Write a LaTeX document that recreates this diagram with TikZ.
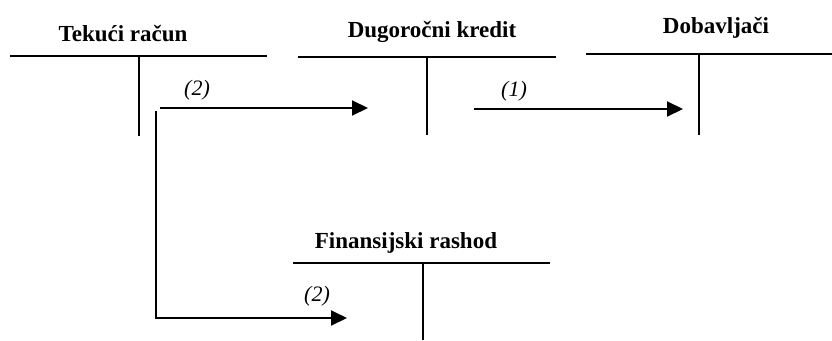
\documentclass[tikz,border=0pt]{standalone}
\usepackage{fontspec}
\setmainfont{Liberation Serif}
\usetikzlibrary{arrows.meta}
\tikzset{
  title/.style={font=\fontsize{23}{26}\selectfont\bfseries, anchor=base, inner sep=0pt},
  lbl/.style={font=\fontsize{22}{24}\selectfont\itshape, inner sep=0pt},
  tline/.style={line width=2pt},
  flow/.style={line width=2pt, -{Triangle[length=16pt,width=15pt]}},
}
\begin{document}
\begin{tikzpicture}[x=1pt,y=-1pt]
\useasboundingbox (0,0) rectangle (832,340);
% T-account: Tekuci racun
\coordinate (t1l) at (10,56); \coordinate (t1r) at (267,56);
\coordinate (t1t) at (139,56); \coordinate (t1b) at (139,136);
\node[title] (n1) at (123,41) {Tekući račun};
\draw[tline] (t1l) -- (t1r); \draw[tline] (t1t) -- (t1b);
% Dugorocni kredit
\coordinate (t2l) at (298,57); \coordinate (t2r) at (556,57);
\coordinate (t2t) at (427,57); \coordinate (t2b) at (427,135);
\node[title] (n2) at (432,37) {Dugoročni kredit};
\draw[tline] (t2l) -- (t2r); \draw[tline] (t2t) -- (t2b);
% Dobavljaci
\coordinate (t3l) at (586,54); \coordinate (t3r) at (832,54);
\coordinate (t3t) at (699,54); \coordinate (t3b) at (699,135);
\node[title] (n3) at (716,33) {Dobavljači};
\draw[tline] (t3l) -- (t3r); \draw[tline] (t3t) -- (t3b);
% Finansijski rashod
\coordinate (t4l) at (293,263); \coordinate (t4r) at (550,263);
\coordinate (t4t) at (423,263); \coordinate (t4b) at (423,340);
\node[title] (n4) at (406,248) {Finansijski rashod};
\draw[tline] (t4l) -- (t4r); \draw[tline] (t4t) -- (t4b);
% flows
\coordinate (a1s) at (160,108); \coordinate (a1e) at (368,108);
\draw[flow] (a1s) -- (a1e);
\node[lbl] (l1) at (197,90) {(2)};
\coordinate (a2s) at (474,109); \coordinate (a2e) at (683,109);
\draw[flow] (a2s) -- (a2e);
\node[lbl] (l2) at (514,91) {(1)};
\coordinate (a3s) at (156,111); \coordinate (a3c) at (156,318); \coordinate (a3e) at (347,318);
\draw[flow] (a3s) -- (a3c) -- (a3e);
\node[lbl] (l3) at (317,296) {(2)};
\end{tikzpicture}
\end{document}
